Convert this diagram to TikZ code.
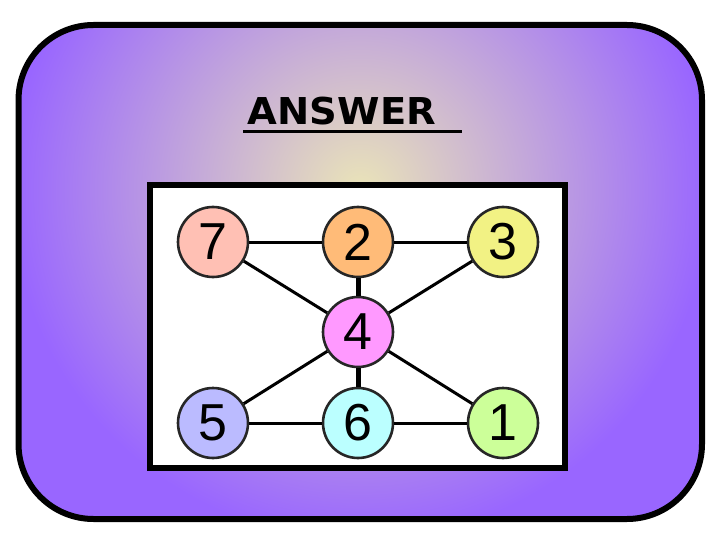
\documentclass[tikz,border=0pt]{standalone}
\usepackage{fontspec}
\setmainfont{Liberation Sans}
\newfontfamily\titlefont{DejaVu Sans}
\definecolor{bgpurple}{HTML}{9966FF}
\definecolor{bgcream}{HTML}{EAE4B8}
\definecolor{c7}{HTML}{FFC0B4}
\definecolor{c2}{HTML}{FFBB78}
\definecolor{c3}{HTML}{F2F284}
\definecolor{c4}{HTML}{FF99FF}
\definecolor{c5}{HTML}{BBBBFF}
\definecolor{c6}{HTML}{BBFFFF}
\definecolor{c1}{HTML}{CCFF99}
\tikzset{
  num/.style={circle, draw=black!85, line width=2.6pt, minimum size=70pt, inner sep=0pt,
    font=\fontsize{52}{52}\selectfont},
  edge/.style={line width=3pt},
  thickedge/.style={line width=5pt}
}
\begin{document}
\begin{tikzpicture}[x=1pt,y=-1pt]
\useasboundingbox (0,0) rectangle (720,540);
\fill[white] (0,0) rectangle (720,540);
\begin{scope}
  \clip[rounded corners=75pt] (18.5,25) rectangle (702,519);
  \fill[bgpurple] (0,0) rectangle (720,540);
  \shade[inner color=bgcream, outer color=bgpurple] (360,190) circle (350);
\end{scope}
\draw[line width=6pt, rounded corners=75pt] (18.5,25) rectangle (702,519);
\node[font=\titlefont\bfseries\fontsize{37}{37}\selectfont, xscale=1.04, inner sep=0pt] (title) at (342,111) {ANSWER};
\coordinate (ul1) at (243,132);
\coordinate (ul2) at (462,132);
\draw[line width=3pt] (ul1) -- (ul2);
\draw[fill=white, line width=6pt] (150,185) rectangle (565,468);
\node[num, fill=c7] (n7) at (213,242) {7};
\node[num, fill=c2] (n2) at (358,242) {2};
\node[num, fill=c3] (n3) at (503,242) {3};
\node[num, fill=c4] (n4) at (358,332) {4};
\node[num, fill=c5] (n5) at (213,423) {5};
\node[num, fill=c6] (n6) at (358,423) {6};
\node[num, fill=c1] (n1) at (503,423) {1};
\draw[edge] (n7) -- (n2);
\draw[edge] (n2) -- (n3);
\draw[edge] (n5) -- (n6);
\draw[edge] (n6) -- (n1);
\draw[edge] (n7) -- (n4);
\draw[edge] (n3) -- (n4);
\draw[edge] (n5) -- (n4);
\draw[edge] (n1) -- (n4);
\draw[thickedge] (n2) -- (n4);
\draw[thickedge] (n6) -- (n4);
\end{tikzpicture}
\end{document}
